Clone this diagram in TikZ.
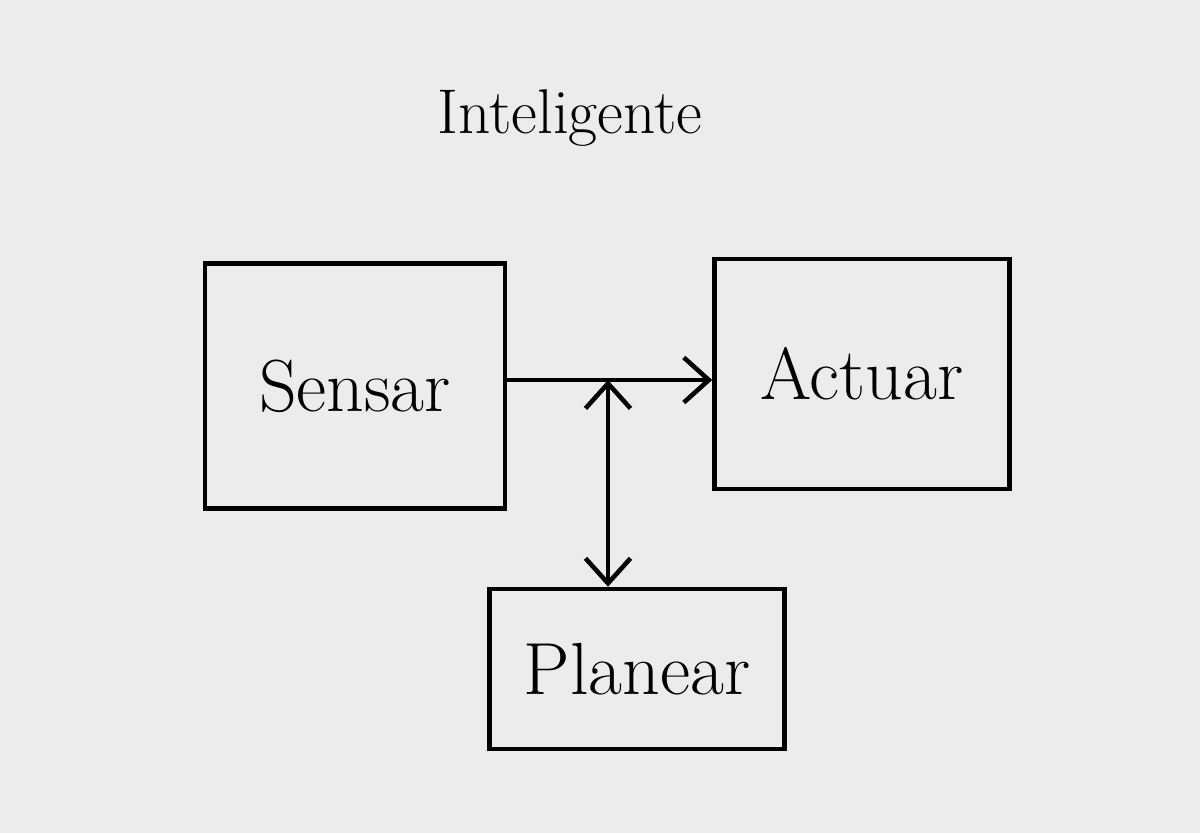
\documentclass[tikz,border=0pt]{standalone}
\usepackage{tikz}
\usetikzlibrary{arrows.meta}
\definecolor{paper}{RGB}{236,236,236}
\tikzset{
  caja/.style = {draw, line width = 1.3pt, minimum width = #1},
  flecha/.style = {line width = 1.3pt, -{Straight Barb[length=2.5mm,width=4.5mm]}},
  dobleflecha/.style = {line width = 1.3pt, {Straight Barb[length=2.5mm,width=4.5mm]}-{Straight Barb[length=2.5mm,width=4.5mm]}}
}
\begin{document}
\begin{tikzpicture}
\fill [paper] (0,0) rectangle (12,8.33);
\useasboundingbox (0,0) rectangle (12,8.33);
\node (titulo) at (5.7,7.15) {\fontsize{18}{22}\selectfont Inteligente};
\node [caja = 3cm, minimum height = 2.45cm] (sensar) at (3.55,4.47) {\fontsize{21}{25}\selectfont Sensar};
\node [caja = 2.95cm, minimum height = 2.3cm] (actuar) at (8.62,4.59) {\fontsize{21}{25}\selectfont Actuar};
\node [caja = 2.95cm, minimum height = 1.6cm] (planear) at (6.37,1.64) {\fontsize{21}{25}\selectfont Planear};
\coordinate (cruce) at (6.08,4.53);
\draw [flecha] (sensar.east |- cruce) -- (actuar.west |- cruce);
\draw [dobleflecha] (cruce) -- (planear.north -| cruce);
\end{tikzpicture}
\end{document}
